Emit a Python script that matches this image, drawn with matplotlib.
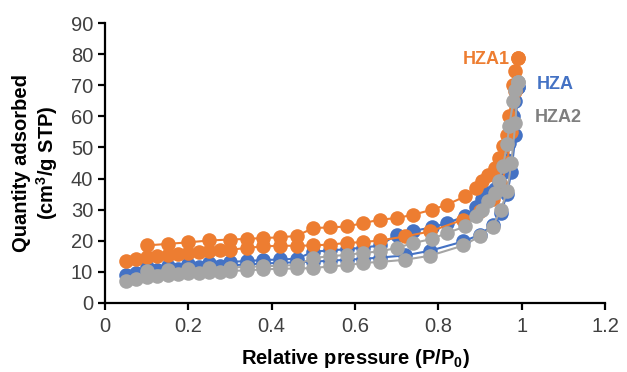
import numpy as np
import matplotlib
matplotlib.use('Agg')
import matplotlib.pyplot as plt

plt.rcParams['font.family'] = ['Liberation Sans', 'DejaVu Sans']

#------------------------------------------------------------------------------
# isotherm data
p_ads = [0.05, 0.075, 0.1, 0.125, 0.15, 0.175, 0.2, 0.225, 0.25, 0.275, 0.3,
         0.34, 0.38, 0.42, 0.46, 0.5, 0.54, 0.58, 0.62, 0.66, 0.72, 0.78,
         0.86, 0.9, 0.93, 0.95, 0.965, 0.975, 0.985, 0.99]
p_des = [0.99, 0.985, 0.98, 0.97, 0.965, 0.955, 0.945, 0.935, 0.92, 0.905,
         0.89, 0.865, 0.82, 0.785, 0.74, 0.7, 0.66, 0.62, 0.58, 0.54, 0.5,
         0.46, 0.42, 0.38, 0.34, 0.3, 0.25, 0.2, 0.15, 0.1]

hza_ads = [9.1, 9.6, 10.1, 10.5, 10.8, 11.0, 11.3, 11.5, 11.7, 11.9, 12.1,
           12.4, 12.7, 12.9, 13.1, 13.3, 13.6, 13.9, 14.2, 14.6, 15.3, 16.8,
           19.8, 22.0, 25.0, 29.0, 35.0, 42.0, 54.0, 69.6]
hza_des = [69.6, 65.0, 60.0, 51.4, 46.0, 42.0, 39.1, 36.5, 35.4, 33.5,
           31.0, 27.9, 25.7, 24.3, 23.2, 22.0, 18.5, 17.8, 17.3, 16.9, 16.5,
           14.2, 14.0, 13.8, 13.5, 13.2, 12.8, 12.4, 12.0, 11.6]

hza1_ads = [13.4, 14.1, 14.8, 15.2, 15.5, 15.6, 16.1, 16.3, 16.6, 16.9, 17.1,
            17.7, 18.2, 18.4, 18.4, 18.5, 18.8, 19.3, 19.6, 20.1, 21.4, 23.0,
            26.8, 29.5, 33.5, 38.0, 45.0, 55.0, 68.0, 78.8]
hza1_des = [78.8, 74.5, 70.2, 60.0, 54.0, 50.4, 46.6, 43.4, 41.3, 39.1,
            37.0, 34.3, 31.6, 30.0, 28.4, 27.3, 26.8, 25.7, 24.6, 24.3, 24.1,
            21.6, 21.1, 20.9, 20.6, 20.4, 20.1, 19.5, 19.0, 18.5]

hza2_ads = [7.0, 7.6, 8.2, 8.6, 9.0, 9.2, 9.5, 9.7, 9.9, 10.1, 10.3,
            10.5, 10.8, 11.0, 11.1, 11.2, 11.8, 12.1, 12.9, 13.2, 13.9, 15.2,
            18.5, 21.5, 24.5, 30.0, 36.0, 45.0, 58.0, 71.0]
hza2_des = [71.0, 68.6, 65.0, 57.0, 51.0, 44.0, 39.1, 35.4, 32.7, 30.0,
            27.9, 24.6, 22.5, 20.6, 19.3, 17.7, 16.6, 16.1, 15.5, 15.0, 14.5,
            12.2, 12.0, 11.8, 11.6, 11.4, 11.2, 10.9, 10.6, 10.2]

#------------------------------------------------------------------------------
fig = plt.figure(figsize=(6.27, 3.72), dpi=100)
ax = fig.add_axes([0.1675, 0.1855, 0.7975, 0.7525])

series = [('HZA', hza_ads, hza_des, '#4472C4'),
          ('HZA1', hza1_ads, hza1_des, '#ED7D31'),
          ('HZA2', hza2_ads, hza2_des, '#A5A5A5')]

for name, ads, des, col in series:
    x = p_ads + p_des
    y = ads + des
    ax.plot(x, y, color=col, lw=1.5, marker='o', ms=10.5,
            markeredgewidth=0, zorder=3)

# series labels next to the curves
ax.text(0.972, 78.4, 'HZA1', color='#ED7D31', fontsize=13, fontweight='bold',
        ha='right', va='center')
ax.text(1.037, 70.4, 'HZA', color='#4472C4', fontsize=13, fontweight='bold',
        ha='left', va='center')
ax.text(1.032, 59.5, 'HZA2', color='#7F7F7F', fontsize=13, fontweight='bold',
        ha='left', va='center')

ax.set_xlim(0, 1.2)
ax.set_ylim(0, 90)
ax.set_xticks([0, 0.2, 0.4, 0.6, 0.8, 1.0, 1.2])
ax.set_xticklabels(['0', '0.2', '0.4', '0.6', '0.8', '1', '1.2'])
ax.set_yticks(range(0, 91, 10))

for s in ['top', 'right']:
    ax.spines[s].set_visible(False)
for s in ['left', 'bottom']:
    ax.spines[s].set_linewidth(1.6)
ax.tick_params(axis='both', direction='out', length=5, width=1.6,
               labelsize=14.5, labelcolor='#404040')
ax.tick_params(axis='x', pad=5)

ax.set_xlabel('Relative pressure (P/P$_\\mathregular{0}$)', fontsize=14.5,
              fontweight='bold')
ax.set_ylabel('Quantity adsorbed\n(cm$^\\mathregular{3}$/g STP)', fontsize=14.5,
              fontweight='bold', linespacing=1.15)
ax.xaxis.set_label_coords(0.5, -0.158)
ax.yaxis.set_label_coords(-0.09, 0.5)

fig.savefig('out.png', dpi=100)
